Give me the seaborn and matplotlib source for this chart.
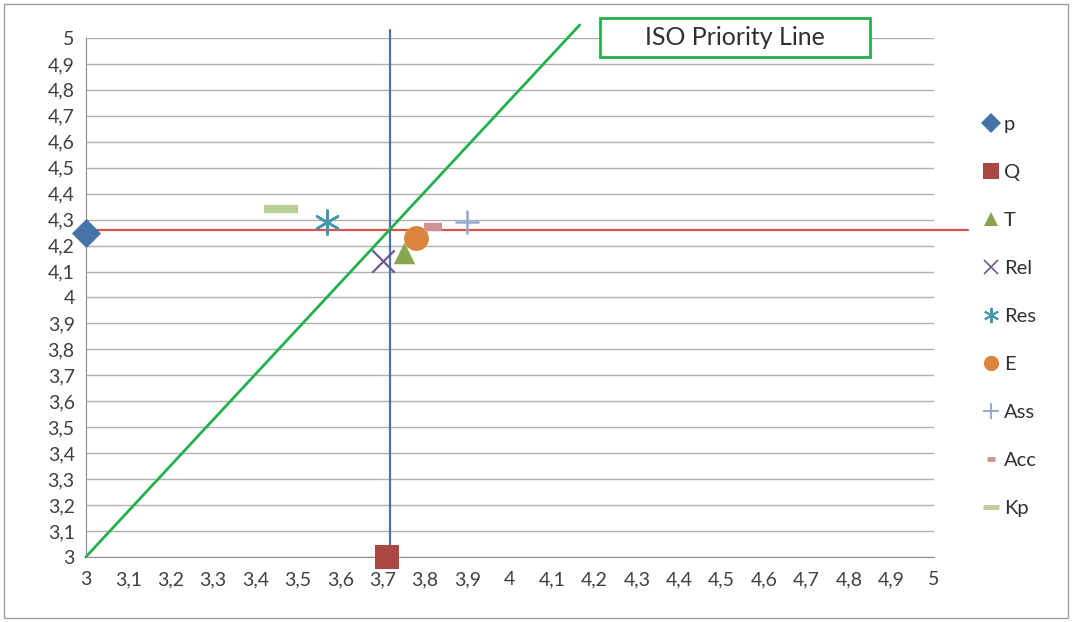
import numpy as np
import pandas as pd
import seaborn as sns
import matplotlib.pyplot as plt
from matplotlib.patches import Rectangle
from matplotlib.lines import Line2D
from matplotlib.ticker import FuncFormatter, MultipleLocator

# Datos
series = ["p", "Q", "T", "Rel", "Res", "E", "Ass", "Acc", "Kp"]
x_vals = [3.0, 3.71, 3.75, 3.70, 3.57, 3.78, 3.90, 3.82, 3.46]
y_vals = [4.25, 3.0, 4.17, 4.14, 4.29, 4.23, 4.29, 4.27, 4.34]
colores = ["#4572A7", "#AA4643", "#89A54E", "#71588F", "#4198AF",
           "#DB843D", "#93A9CF", "#D19392", "#B9CD96"]
marcadores = ["D", "s", "^", "x", (6, 2, 0), "o", "+", "_", "_"]
tamanos = [220, 300, 240, 260, 300, 320, 300, 160, 600]
grosores = [0, 0, 0, 1.6, 1.8, 0, 1.8, 6, 6]

# Líneas de referencia
media_x = 3.717
media_y = 4.26
iso_x = [3.0, 4.165]
iso_y = [3.0, 5.05]

df = pd.DataFrame({"serie": series, "x": x_vals, "y": y_vals})

sns.set_style("white")
plt.rcParams["font.family"] = ["Lato", "DejaVu Sans"]

fig = plt.figure(figsize=(10.72, 6.22), dpi=100)
ax = fig.add_axes([0.080, 0.1045, 0.791, 0.8345])

ax.set_xlim(3, 5)
ax.set_ylim(3, 5)
ax.yaxis.set_major_locator(MultipleLocator(0.1))
ax.xaxis.set_major_locator(MultipleLocator(0.1))
fmt = FuncFormatter(lambda v, p: f"{round(v, 1):g}".replace(".", ","))
ax.xaxis.set_major_formatter(fmt)
ax.yaxis.set_major_formatter(fmt)
ax.grid(axis="y", color="#b0b0b0", linewidth=1)
ax.set_axisbelow(True)
for s in ["top", "right"]:
    ax.spines[s].set_visible(False)
for s in ["left", "bottom"]:
    ax.spines[s].set_color("#8c8c8c")
ax.tick_params(axis="both", labelsize=14, colors="#404040", length=5,
               color="#8c8c8c", direction="out")
ax.tick_params(axis="x", pad=5)
ax.tick_params(axis="y", pad=3)

# Líneas
ax.plot([3, 5.08], [media_y, media_y], color="#d9504f", lw=1.6, clip_on=False, zorder=2)
ax.plot([media_x, media_x], [3, 5.03], color="#4a74b8", lw=1.6, clip_on=False, zorder=2)
ax.plot(iso_x, iso_y, color="#22b14c", lw=2, clip_on=False, zorder=2)

# Puntos
for i, s in enumerate(series):
    sub = df[df["serie"] == s]
    sns.scatterplot(data=sub, x="x", y="y", ax=ax, marker=marcadores[i],
                    s=tamanos[i], color=colores[i], linewidth=grosores[i],
                    legend=False, clip_on=False, zorder=4)
ax.set_xlabel("")
ax.set_ylabel("")

# Leyenda
leg_tam = [10, 11, 10, 10, 11, 11, 11, 6, 11]
leg_gro = [0, 0, 0, 1.2, 1.4, 0, 1.4, 3.5, 3.5]
handles = [Line2D([], [], ls="", marker=marcadores[i], ms=leg_tam[i],
                  color=colores[i], mec=colores[i], mew=leg_gro[i])
           for i in range(len(series))]
leg = ax.legend(handles, series, loc="upper left", bbox_to_anchor=(0.896, 0.842),
                bbox_transform=fig.transFigure, frameon=False, fontsize=14.5,
                labelspacing=1.53, handletextpad=0.05, handlelength=1.2)
for t in leg.get_texts():
    t.set_color("#303030")

# Cuadro de texto
fig.patches.append(Rectangle((0.5597, 0.908), 0.2519, 0.063, transform=fig.transFigure,
                             fc="white", ec="#22b14c", lw=2, zorder=5))
fig.text(0.6857, 0.9395, "ISO Priority Line", ha="center", va="center",
         fontsize=18, color="#303030", zorder=6)

# Borde exterior
fig.patches.append(Rectangle((0.004, 0.006), 0.992, 0.988, transform=fig.transFigure,
                             fill=False, ec="#a0a0a0", lw=1))

plt.savefig("out.png", dpi=100)
plt.close()
